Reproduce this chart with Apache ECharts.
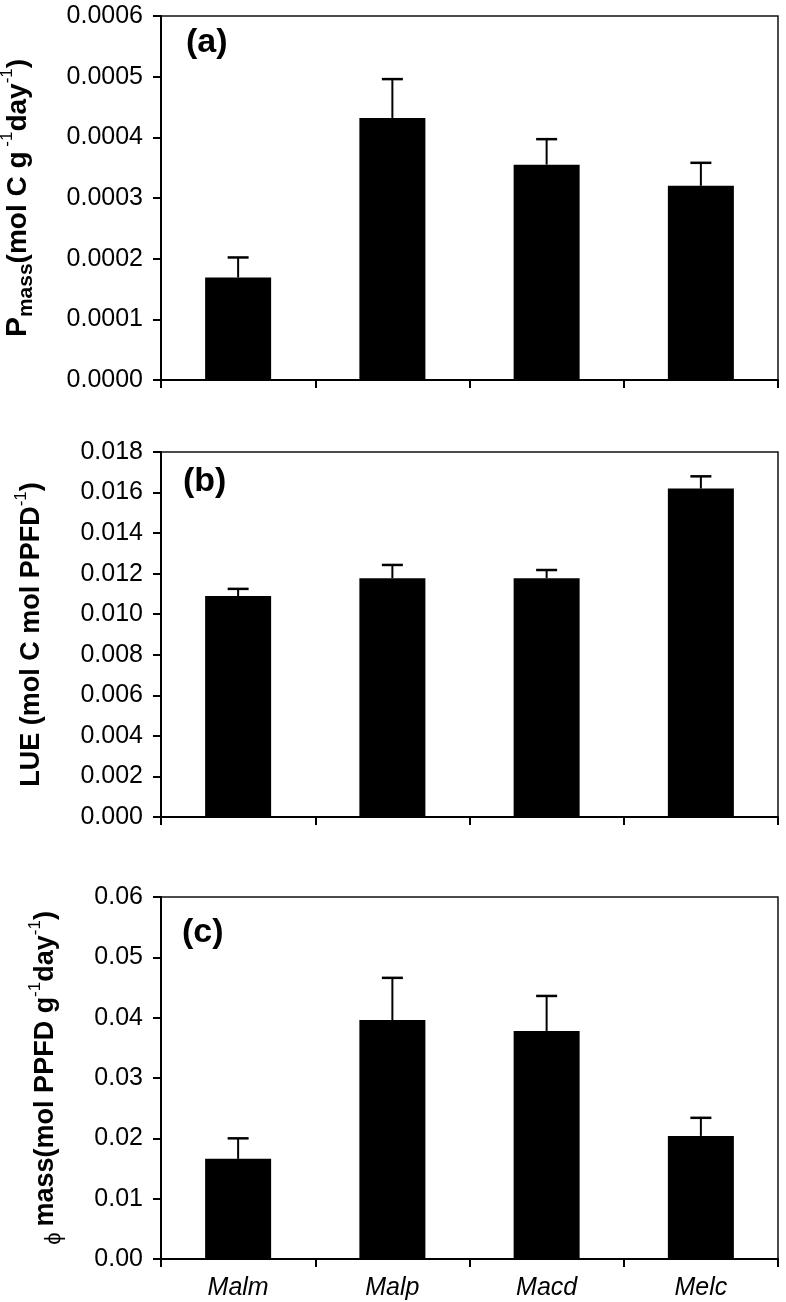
<!DOCTYPE html>
<html>
<head>
<meta charset="utf-8">
<script src="https://cdn.jsdelivr.net/npm/echarts@6/dist/echarts.min.js"></script>
<style>
html,body{margin:0;padding:0;background:#fff;}
#c{width:786px;height:1302px;}
</style>
</head>
<body>
<div id="c"></div>
<script>
const categories = ['Malm', 'Malp', 'Macd', 'Melc'];
const pmass = [0.000169, 0.000432, 0.000355, 0.000320];
const pmassErr = [0.000033, 0.000064, 0.000042, 0.000038];
const lue = [0.0109, 0.01178, 0.01178, 0.0162];
const lueErr = [0.00035, 0.00065, 0.00040, 0.00060];
const phi = [0.0166, 0.0396, 0.0378, 0.0204];
const phiErr = [0.0034, 0.0070, 0.0058, 0.0030];
const yTicksA = {min: 0, max: 0.0006, interval: 0.0001, digits: 4};
const yTicksB = {min: 0, max: 0.018, interval: 0.002, digits: 3};
const yTicksC = {min: 0, max: 0.06, interval: 0.01, digits: 2};
const panelLabels = ['(a)', '(b)', '(c)'];

const FONT = 'Liberation Sans, Arial, sans-serif';
const grids = [
  {left: 161, right: 8, top: 16, height: 364},
  {left: 161, right: 8, top: 452, height: 365},
  {left: 161, right: 8, top: 897, height: 362}
];

function xAxis(i, showLabels) {
  return {
    type: 'category', gridIndex: i, data: categories,
    axisLine: {lineStyle: {color: '#000', width: 2}},
    axisTick: {show: true, inside: false, length: 8, lineStyle: {color: '#000', width: 2}},
    axisLabel: {show: showLabels, color: '#000', fontSize: 25, fontStyle: 'italic', fontFamily: FONT, margin: 17},
    splitLine: {show: false}
  };
}
function yAxis(i, t, name, rich, gap) {
  return {
    type: 'value', gridIndex: i, min: t.min, max: t.max, interval: t.interval,
    axisLine: {show: true, lineStyle: {color: '#000', width: 2}},
    axisTick: {show: true, inside: false, length: 8, lineStyle: {color: '#000', width: 2}},
    axisLabel: {color: '#000', fontSize: 25, fontFamily: FONT, margin: 18,
      formatter: v => v.toFixed(t.digits)},
    splitLine: {show: false},
    name: name, nameLocation: 'middle', nameGap: gap,
    nameTextStyle: {color: '#000', fontFamily: FONT, rich: rich}
  };
}
const base = {fontFamily: FONT, fontWeight: 'bold', fontSize: 27, color: '#000', lineHeight: 38, verticalAlign: 'middle'};
const richA = {
  b: Object.assign({}, base, {fontSize: 28}),
  p: Object.assign({}, base, {fontSize: 30}),
  sub: Object.assign({}, base, {fontSize: 21, verticalAlign: 'bottom'}),
  sup: Object.assign({}, base, {fontSize: 17, fontWeight: 'normal', verticalAlign: 'top'})
};
const richB = {
  b: base,
  sup: Object.assign({}, base, {fontSize: 17, fontWeight: 'normal', verticalAlign: 'top'})
};
const richC = {
  b: base,
  phi: Object.assign({}, base, {fontSize: 22, fontWeight: 'normal', verticalAlign: 'bottom'}),
  m: Object.assign({}, base, {fontSize: 27}),
  sup: Object.assign({}, base, {fontSize: 17, fontWeight: 'normal', verticalAlign: 'top'})
};

function errSeries(i, vals, errs) {
  return {
    type: 'custom', xAxisIndex: i, yAxisIndex: i, z: 5,
    data: vals.map((v, k) => [k, v, v + errs[k]]),
    renderItem: function (params, api) {
      const p0 = api.coord([api.value(0), api.value(1)]);
      const p1 = api.coord([api.value(0), api.value(2)]);
      const hw = 10.5;
      return {
        type: 'group',
        children: [
          {type: 'line', shape: {x1: p0[0], y1: p0[1], x2: p1[0], y2: p1[1]}, style: {stroke: '#000', lineWidth: 2}},
          {type: 'line', shape: {x1: p1[0] - hw, y1: p1[1], x2: p1[0] + hw, y2: p1[1]}, style: {stroke: '#000', lineWidth: 2.5}}
        ]
      };
    }
  };
}
function barSeries(i, vals) {
  return {type: 'bar', xAxisIndex: i, yAxisIndex: i, data: vals, barWidth: 66,
    itemStyle: {color: '#000'}, silent: true};
}

const chart = echarts.init(document.getElementById('c'), null, {renderer: 'canvas'});
chart.setOption({
  backgroundColor: '#fff',
  animation: false,
  grid: grids.map(g => Object.assign({show: true, borderColor: '#111', borderWidth: 1.5, backgroundColor: 'transparent',
    containLabel: false, outerBoundsMode: 'none'}, g)),
  xAxis: [xAxis(0, false), xAxis(1, false), xAxis(2, true)],
  yAxis: [
    yAxis(0, yTicksA, '{p|P}{sub|mass}{b|(mol C g}{sup| -1}{b|day}{sup|-1}{b|)}', richA, 124),
    yAxis(1, yTicksB, '{b|LUE (mol C mol PPFD}{sup|-1}{b|)}', richB, 110),
    yAxis(2, yTicksC, '{phi|ϕ }{m|mass}{b|(mol PPFD g}{sup|-1}{b|day}{sup|-1}{b|)}', richC, 96)
  ],
  series: [
    barSeries(0, pmass), errSeries(0, pmass, pmassErr),
    barSeries(1, lue), errSeries(1, lue, lueErr),
    barSeries(2, phi), errSeries(2, phi, phiErr)
  ],
  graphic: [
    {type: 'text', left: 186, top: 26, style: {text: panelLabels[0], fontFamily: FONT, fontWeight: 'bold', fontSize: 34, fill: '#000'}},
    {type: 'text', left: 183, top: 465, style: {text: panelLabels[1], fontFamily: FONT, fontWeight: 'bold', fontSize: 34, fill: '#000'}},
    {type: 'text', left: 182, top: 916, style: {text: panelLabels[2], fontFamily: FONT, fontWeight: 'bold', fontSize: 34, fill: '#000'}}
  ]
});
</script>
</body>
</html>
